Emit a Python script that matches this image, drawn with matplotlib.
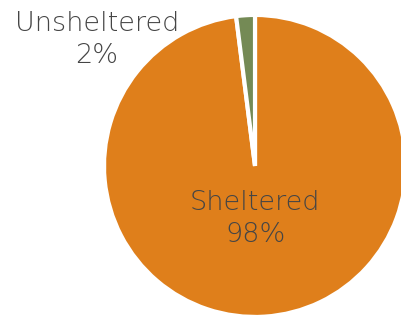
import matplotlib
matplotlib.use("Agg")
import matplotlib.pyplot as plt

categories = ["Sheltered", "Unsheltered"]
values = [98, 2]
colors = ["#DF7F1B", "#748A55"]

fig = plt.figure(figsize=(4.01, 3.18), dpi=100)
ax = fig.add_axes([0, 0, 1, 1])
ax.pie(values, colors=colors, startangle=90, counterclock=False,
       wedgeprops=dict(edgecolor="white", linewidth=3))
ax.set_xlim(-1.689, 0.967)
ax.set_ylim(-1.007, 1.099)
ax.set_aspect("auto")
ax.axis("off")

total = sum(values)
label_pos = [(0.0, -0.345), (-1.046, 0.835)]
for cat, v, (x, y) in zip(categories, values, label_pos):
    ax.text(x, y, f"{cat}\n{round(100 * v / total)}%", ha="center", va="center",
            fontsize=19.5, color="#454545", linespacing=1.35,
            family="DejaVu Sans", fontweight="light")

fig.savefig("out.png", dpi=100)
